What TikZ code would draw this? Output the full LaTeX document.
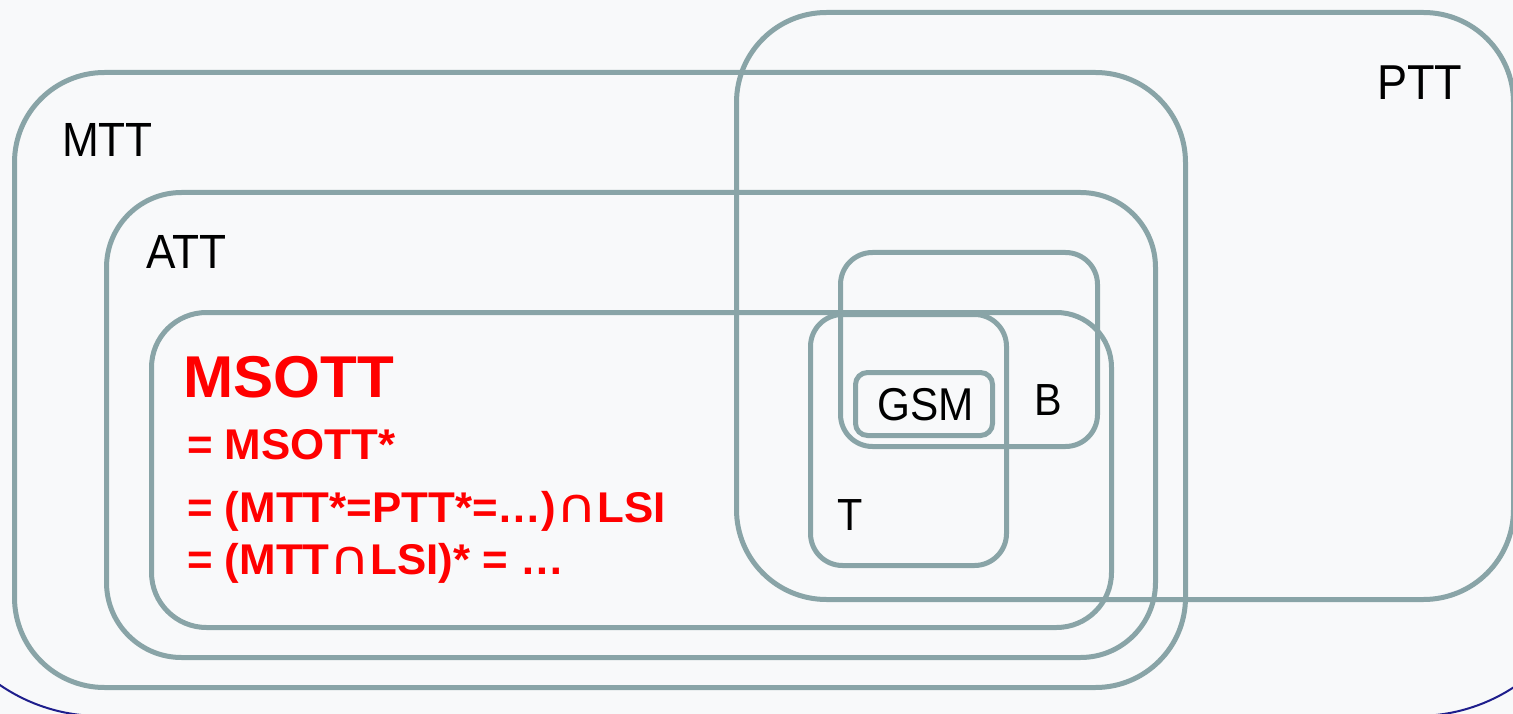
\documentclass[tikz,border=0pt]{standalone}
\usepackage{fontspec}
\setmainfont[FakeStretch=0.92]{Liberation Sans}
\newfontfamily\redfont[FakeStretch=1.02]{Liberation Sans}
\newfontfamily\capfont{DejaVu Sans}
\newcommand{\capsym}{\scalebox{1.3}[1.1]{\capfont\mdseries ∩}}
\definecolor{setline}{RGB}{137,164,167}
\definecolor{bgc}{RGB}{248,249,250}
\definecolor{frameblue}{RGB}{30,30,140}
\definecolor{msred}{RGB}{255,0,0}
\begin{document}
\begin{tikzpicture}[x=1pt,y=-1pt,
  setbox/.style={draw=setline, line width=5pt, fill=none, inner sep=0pt, anchor=north west, shape=rectangle},
  lab/.style={anchor=base west, inner sep=0pt, font=\fontsize{48}{56}\selectfont, text=black},
  redlab/.style={anchor=base west, inner sep=0pt, text=msred, font=\redfont\bfseries\fontsize{43}{50}\selectfont}]
\useasboundingbox (0,0) rectangle (1513,714);
\fill[bgc] (0,0) rectangle (1513,714);
\begin{scope}
\clip (0,0) rectangle (1513,714);
\draw[frameblue, line width=2pt, rounded corners=177pt] (-77,-400) rectangle (1594,716);
\end{scope}
% sets
\node[setbox, rounded corners=90pt, minimum width=1171pt, minimum height=615pt] (mtt) at (12,70) {};
\node[setbox, rounded corners=75pt, minimum width=1049pt, minimum height=465pt] (att) at (104,190) {};
\node[setbox, rounded corners=55pt, minimum width=960pt, minimum height=315pt] (msott) at (149,310) {};
\node[setbox, rounded corners=90pt, minimum width=777pt, minimum height=587pt] (ptt) at (734,10) {};
\node[setbox, rounded corners=32pt, minimum width=257pt, minimum height=194pt] (b) at (838,250) {};
\node[setbox, rounded corners=32pt, minimum width=196pt, minimum height=251pt] (t) at (808,312) {};
\node[setbox, rounded corners=12pt, minimum width=137pt, minimum height=63pt] (gsm) at (853,370) {};
% labels
\node[lab] (lmtt) at (62,157) {MTT};
\node[lab] (latt) at (146,269) {ATT};
\node[lab, font=\fontsize{49}{56}\selectfont] (lptt) at (1377,100) {PTT};
\node[lab, font=\fontsize{46}{52}\selectfont] (lgsm) at (877,420) {GSM};
\node[lab, font=\fontsize{45}{52}\selectfont] (lb) at (1034,415) {B};
\node[lab, font=\fontsize{45}{52}\selectfont] (lt) at (837,530) {T};
\node[redlab, font=\redfont\bfseries\fontsize{59}{70}\selectfont] (l1) at (183,397) {MSOTT};
\node[redlab] (l2) at (187,459) {= MSOTT*};
\node[redlab] (l3) at (187,522) {= (MTT*=PTT*=…)\capsym LSI};
\node[redlab] (l4) at (187,574) {= (MTT\capsym LSI)* = …};
\end{tikzpicture}
\end{document}
